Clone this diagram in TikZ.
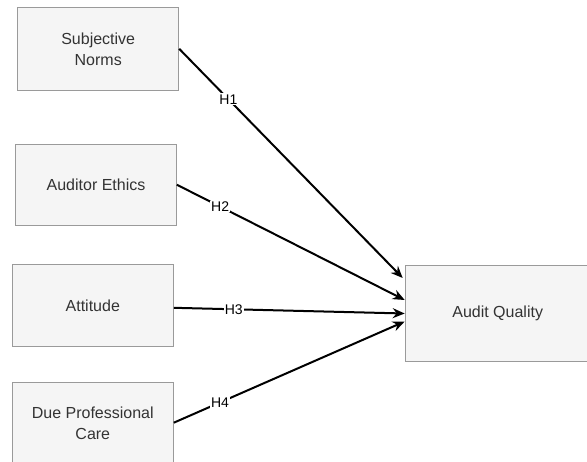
\documentclass[tikz,border=0pt]{standalone}
\usepackage{fontspec}
\setmainfont{Liberation Sans}
\usetikzlibrary{calc,arrows.meta}
\definecolor{boxfill}{HTML}{F5F5F5}
\definecolor{boxdraw}{HTML}{9A9A9A}
\definecolor{txt}{HTML}{333333}
\tikzset{
  box/.style={draw=boxdraw, line width=1pt, fill=boxfill, text=txt, align=center,
    font=\fontsize{16}{21}\selectfont, inner sep=0pt},
  conn/.style={line width=2pt, black, -{Stealth[length=12pt,width=10pt,inset=4pt]}},
  hlab/.style={fill=white, inner sep=1pt, font=\fontsize{14}{16}\selectfont, text=black}
}
\begin{document}
\begin{tikzpicture}[x=1pt,y=-1pt]
\clip (0,0) rectangle (587,462);
\fill[white] (0,0) rectangle (587,462);
\node[box, minimum width=161pt, minimum height=83pt] (sn) at (98.2,48.8) {Subjective\\Norms};
\node[box, minimum width=160.6pt, minimum height=81.3pt] (ae) at (96,184.7) {Auditor Ethics};
\node[box, minimum width=161pt, minimum height=81.7pt] (at) at (92.8,305.8) {Attitude};
\node[box, minimum width=161pt, minimum height=82pt] (dpc) at (92.8,423.3) {Due Professional\\Care};
\node[box, minimum width=185pt, minimum height=96.4pt] (aq) at (497.7,313.5) {Audit Quality};
\coordinate (t1) at ($(aq.west)+(-2,-35.5)$);
\coordinate (t2) at ($(aq.west)+(0,-13.5)$);
\coordinate (t3) at ($(aq.west)+(0,0)$);
\coordinate (t4) at ($(aq.west)+(0,8)$);
\draw[conn] (sn.east) -- node[hlab, pos=0.22] {H1} (t1);
\draw[conn] (ae.east) -- node[hlab, pos=0.19] {H2} (t2);
\draw[conn] ($(at.east)+(0,2)$) -- node[hlab, pos=0.26] {H3} (t3);
\draw[conn] ($(dpc.east)+(0,-0.6)$) -- node[hlab, pos=0.2] {H4} (t4);
\end{tikzpicture}
\end{document}
